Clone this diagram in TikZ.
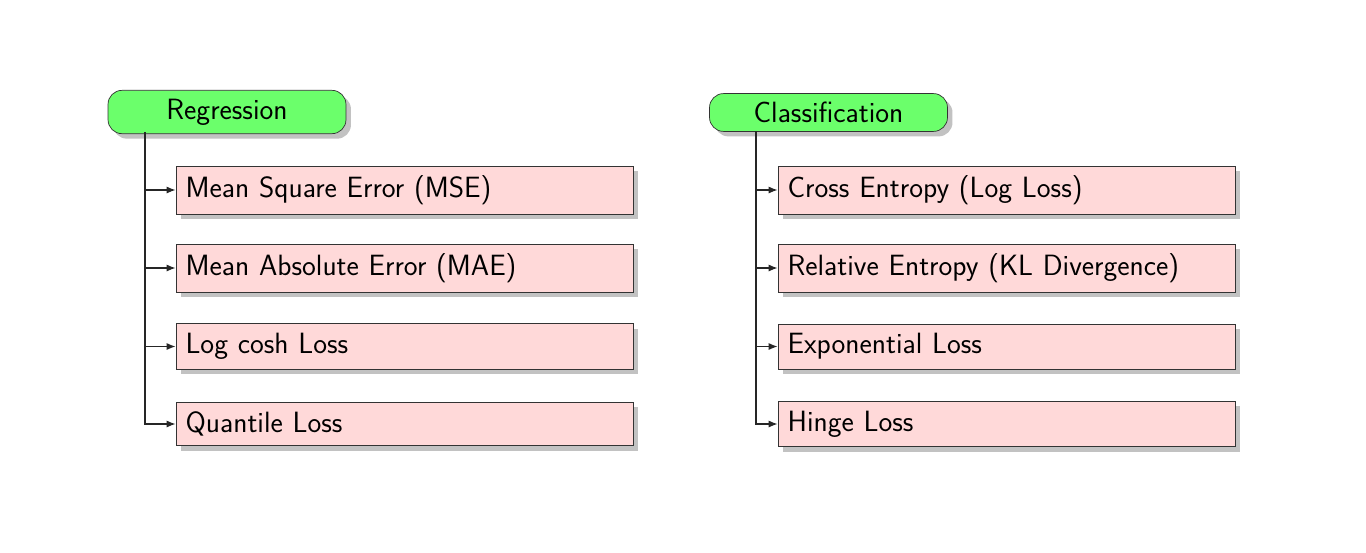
\documentclass[tikz,border=0pt]{standalone}
\usetikzlibrary{shadows,arrows.meta}
\begin{document}
\begin{tikzpicture}[x=0.02cm,y=-0.02cm,
  font=\sffamily\fontsize{16.7}{19}\selectfont,
  shad/.style={drop shadow={shadow xshift=0.1cm,shadow yshift=-0.1cm,fill=black!24,opacity=1}},
  headbox/.style={draw=black!80,fill=green!58,rounded corners=0.28cm,minimum width=4.76cm,inner sep=0.17cm,shad},
  lossbox/.style={draw=black!80,fill=red!15,inner sep=0.19cm,text width=8.76cm,align=left,shad},
  conn/.style={draw=black!85,line width=0.7pt,-{Latex[length=0.18cm,width=0.14cm]}}]
\useasboundingbox (0,0) rectangle (1366,552);
\node[headbox] (reg) at (227,112) {Regression};
\node[headbox] (cls) at (828.5,112.5) {Classification};
\node[lossbox] (r1) at (404.5,190) {Mean Square Error (MSE)};
\node[lossbox] (r2) at (404.5,268) {Mean Absolute Error (MAE)};
\node[lossbox] (r3) at (404.5,346.5) {Log cosh Loss};
\node[lossbox] (r4) at (404.5,424) {Quantile Loss};
\node[lossbox] (c1) at (1006.5,190) {Cross Entropy (Log Loss)};
\node[lossbox] (c2) at (1006.5,268) {Relative Entropy (KL Divergence)};
\node[lossbox] (c3) at (1006.5,346.5) {Exponential Loss};
\node[lossbox] (c4) at (1006.5,424) {Hinge Loss};
\coordinate (rt) at (145,132);
\coordinate (ct) at (756,131);
\foreach \n in {r1,r2,r3,r4} \draw[conn] (rt) |- (\n.west);
\foreach \n in {c1,c2,c3,c4} \draw[conn] (ct) |- (\n.west);
\end{tikzpicture}
\end{document}
